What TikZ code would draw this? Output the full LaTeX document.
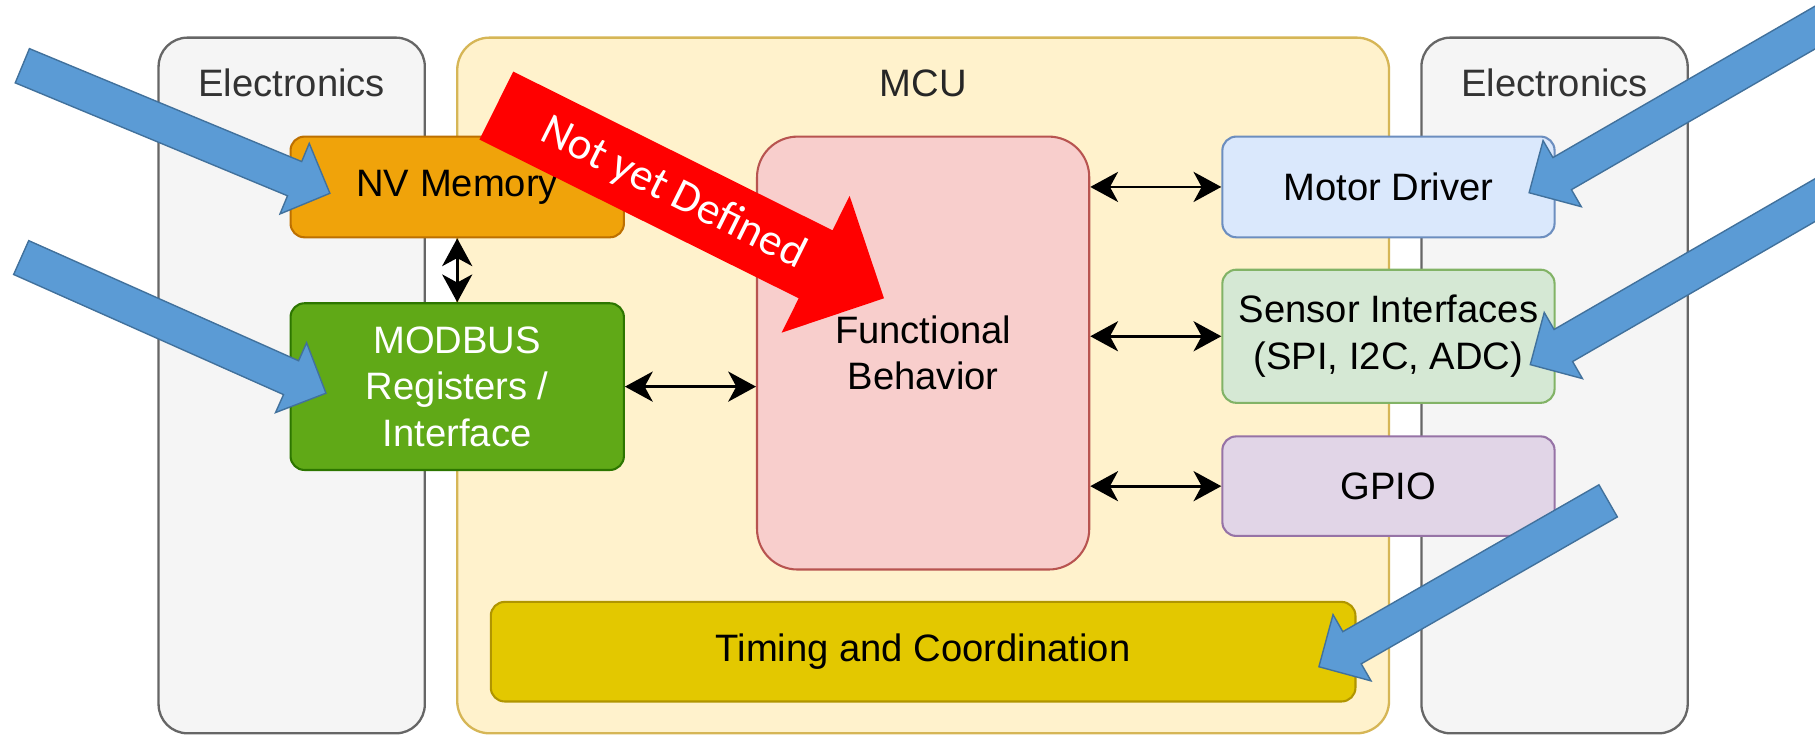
\documentclass[tikz,border=0pt]{standalone}
\usepackage{fontspec}
\setmainfont{Liberation Sans}
\newfontfamily\calibri{Carlito}
\usetikzlibrary{arrows.meta,calc}

\definecolor{mcuFill}{HTML}{FFF2CC}
\definecolor{mcuLine}{HTML}{D6B656}
\definecolor{elFill}{HTML}{F5F5F5}
\definecolor{elLine}{HTML}{666666}
\definecolor{elText}{HTML}{333333}
\definecolor{nvFill}{HTML}{F0A30A}
\definecolor{nvLine}{HTML}{BD7000}
\definecolor{mbFill}{HTML}{60A917}
\definecolor{mbLine}{HTML}{2D7600}
\definecolor{fnFill}{HTML}{F8CECC}
\definecolor{fnLine}{HTML}{B85450}
\definecolor{mdFill}{HTML}{DAE8FC}
\definecolor{mdLine}{HTML}{6C8EBF}
\definecolor{snFill}{HTML}{D5E8D4}
\definecolor{snLine}{HTML}{82B366}
\definecolor{gpFill}{HTML}{E1D5E7}
\definecolor{gpLine}{HTML}{9673A6}
\definecolor{tmFill}{HTML}{E3C800}
\definecolor{tmLine}{HTML}{B09500}
\definecolor{blFill}{HTML}{5B9BD5}
\definecolor{blLine}{HTML}{41719C}

% block arrow: tail, tip, half shaft width, half head width, head length, style
\newcommand{\blockarr}[6]{%
  \coordinate (ba-b) at ($(#2)!#5!(#1)$);
  \filldraw[#6] ($(#1)!#3!90:(#2)$) -- ($(ba-b)!#3!-90:(#1)$)
    -- ($(ba-b)!#4!-90:(#1)$) -- (#2) -- ($(ba-b)!#4!90:(#1)$)
    -- ($(ba-b)!#3!90:(#1)$) -- ($(#1)!#3!-90:(#2)$) -- cycle;
}

\begin{document}
\begin{tikzpicture}[x=1pt,y=-1pt,
  txt/.style={font=\fontsize{33}{40}\selectfont, align=center},
  container/.style={draw, line width=2pt, rounded corners=25pt, inner sep=0pt},
  block/.style={txt, draw, line width=1.8pt, rounded corners=12pt, inner sep=0pt},
  title/.style={txt, text=elText},
  link/.style={line width=2.3pt, {Stealth[length=24pt,width=26pt,inset=7pt]}-{Stealth[length=24pt,width=26pt,inset=7pt]}},
  bluearr/.style={fill=blFill, draw=blLine, line width=1.2pt},
  redarr/.style={fill=red, draw=none}]

\useasboundingbox (0,0) rectangle (1568,635);
\fill[white] (0,0) rectangle (1568,635);

% containers
\node[container, fill=elFill, draw=elLine, minimum width=230pt, minimum height=601pt] (elecL) at (252,333) {};
\node[container, fill=mcuFill, draw=mcuLine, rounded corners=28pt, minimum width=805pt, minimum height=601pt] (mcu) at (797.5,333) {};
\node[container, fill=elFill, draw=elLine, minimum width=230pt, minimum height=601pt] (elecR) at (1343,333) {};

\node[title] (elecLt) at (252,72) {Electronics};
\node[title, text=black!85] (mcut) at (797.5,72) {MCU};
\node[title] (elecRt) at (1343,72) {Electronics};

% functional blocks
\node[block, fill=nvFill, draw=nvLine, minimum width=288pt, minimum height=87pt] (nv) at (395,161.5) {NV Memory};
\node[block, fill=mbFill, draw=mbLine, text=white, minimum width=288pt, minimum height=144pt] (modbus) at (395,334) {MODBUS\\Registers /\\Interface};
\node[block, fill=fnFill, draw=fnLine, rounded corners=35pt, minimum width=287pt, minimum height=374pt] (func) at (797.5,305) {Functional\\Behavior};
\node[block, fill=mdFill, draw=mdLine, minimum width=287pt, minimum height=87pt] (motor) at (1199.5,161.5) {Motor Driver};
\node[block, fill=snFill, draw=snLine, minimum width=287pt, minimum height=115pt] (sensor) at (1199.5,290.5) {Sensor Interfaces\\(SPI, I2C, ADC)};
\node[block, fill=gpFill, draw=gpLine, minimum width=287pt, minimum height=86pt] (gpio) at (1199.5,420) {GPIO};
\node[block, fill=tmFill, draw=tmLine, minimum width=747pt, minimum height=86pt] (timing) at (797.5,563) {Timing and Coordination};

% connectors
\draw[link] (nv.south) -- (modbus.north);
\draw[link] (modbus.east) -- (func.west |- modbus.east);
\draw[link] (func.east |- motor.west) -- (motor.west);
\draw[link] (func.east |- sensor.west) -- (sensor.west);
\draw[link] (func.east |- gpio.west) -- (gpio.west);

% blue pointer arrows
\coordinate (b1t) at (19.3,56.8);   \coordinate (b1p) at (285,167);
\coordinate (b2t) at (18.3,222.5);  \coordinate (b2p) at (281.6,339.7);
\coordinate (b3t) at (1598,6.5);    \coordinate (b3p) at (1321,166.5);
\coordinate (b4t) at (1599,155);    \coordinate (b4p) at (1322,315);
\coordinate (b5t) at (1389.3,432.7);\coordinate (b5p) at (1139.4,576);
\blockarr{b1t}{b1p}{16pt}{33pt}{33pt}{bluearr}
\blockarr{b2t}{b2p}{16pt}{33pt}{33pt}{bluearr}
\blockarr{b3t}{b3p}{16pt}{33pt}{33pt}{bluearr}
\blockarr{b4t}{b4p}{16pt}{33pt}{33pt}{bluearr}
\blockarr{b5t}{b5p}{16pt}{33pt}{33pt}{bluearr}

% red banner arrow
\coordinate (rt) at (428.8,91.2); \coordinate (rp) at (763.7,257.7);
\blockarr{rt}{rp}{32.8pt}{66pt}{66pt}{redarr}
\path (rt) -- node[pos=0.456, sloped, text=white, font=\calibri\fontsize{39}{44}\selectfont] (redlbl) {Not yet Defined} (rp);

\end{tikzpicture}
\end{document}
